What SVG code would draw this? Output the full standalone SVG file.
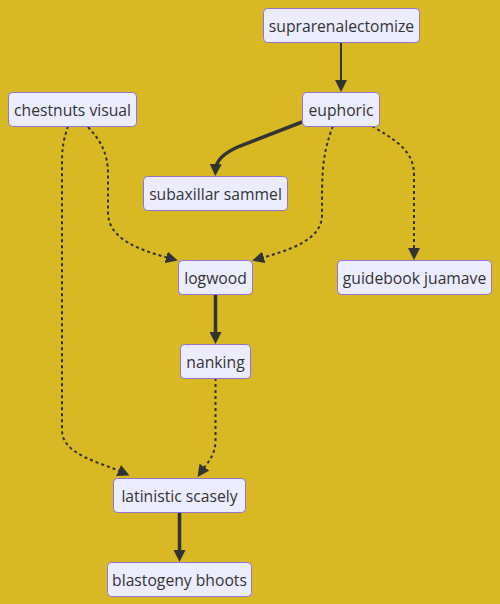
<svg xmlns="http://www.w3.org/2000/svg" width="500" height="604" viewBox="0 0 500 604">
<style>
.bg{fill:#d8b823}
.node rect{fill:#ececff;stroke:#9370db;stroke-width:1}
.node text{font-family:"Open Sans","Noto Sans",sans-serif;font-size:15.7px;fill:#333;text-anchor:middle}
.e{fill:none;stroke:#333;stroke-width:2}
.thick{stroke-width:3.5}
.dot{stroke-dasharray:3 3}
</style>
<defs>
<marker id="arr" viewBox="0 0 10 10" refX="5" refY="5" markerUnits="userSpaceOnUse" markerWidth="12" markerHeight="12" orient="auto">
<path d="M0,0 L10,5 L0,10 z" fill="#333"/>
</marker>
</defs>
<rect class="bg" x="0" y="0" width="500" height="604"/>
<g id="edges">
<path class="e" d="M341,42 L341,86" marker-end="url(#arr)"/>
<path class="e thick" d="M302,122 L240,146 Q216,156 215.5,170" marker-end="url(#arr)"/>
<path class="e dot" d="M333,126 C324,150 322,165 322,200 L322,215 C322,240 290,250 258,259" marker-end="url(#arr)"/>
<path class="e dot" d="M372,126 C395,140 414,150 414,175 L414,254" marker-end="url(#arr)"/>
<path class="e dot" d="M88,127 C100,140 108,152 108,175 L108,212 C108,240 140,250 172,259" marker-end="url(#arr)"/>
<path class="e dot" d="M68,126 C62,145 62,150 62,170 L62,430 C62,455 100,462 124,473" marker-end="url(#arr)"/>
<path class="e thick" d="M215.5,294 L215.5,338" marker-end="url(#arr)"/>
<path class="e dot" d="M215.5,378 L215.5,440 C215.5,455 208,462 201,472" marker-end="url(#arr)"/>
<path class="e thick" d="M179.5,512 L179.5,556" marker-end="url(#arr)"/>
</g>
<g id="n-suprarenalectomize" class="node"><rect x="263.5" y="8.5" width="156" height="34" rx="4"/><text x="341.5" y="31.5">suprarenalectomize</text></g>
<g id="n-euphoric" class="node"><rect x="302.5" y="92.5" width="77" height="34" rx="4"/><text x="341" y="115.5">euphoric</text></g>
<g id="n-chestnuts" class="node"><rect x="8.5" y="92.5" width="128" height="34" rx="4"/><text x="72.5" y="115.5">chestnuts visual</text></g>
<g id="n-subaxillar" class="node"><rect x="143.5" y="176.5" width="144" height="34" rx="4"/><text x="215.5" y="199.5">subaxillar sammel</text></g>
<g id="n-logwood" class="node"><rect x="178.5" y="260.5" width="74" height="34" rx="4"/><text x="215.5" y="283.5">logwood</text></g>
<g id="n-guidebook" class="node"><rect x="337.5" y="260.5" width="154" height="34" rx="4"/><text x="414.5" y="283.5">guidebook juamave</text></g>
<g id="n-nanking" class="node"><rect x="180.5" y="344.5" width="70" height="34" rx="4"/><text x="215.5" y="367.5">nanking</text></g>
<g id="n-latinistic" class="node"><rect x="113.5" y="478.5" width="132" height="34" rx="4"/><text x="179.5" y="501.5">latinistic scasely</text></g>
<g id="n-blastogeny" class="node"><rect x="107.5" y="562.5" width="144" height="34" rx="4"/><text x="179.5" y="585.5">blastogeny bhoots</text></g>
</svg>
